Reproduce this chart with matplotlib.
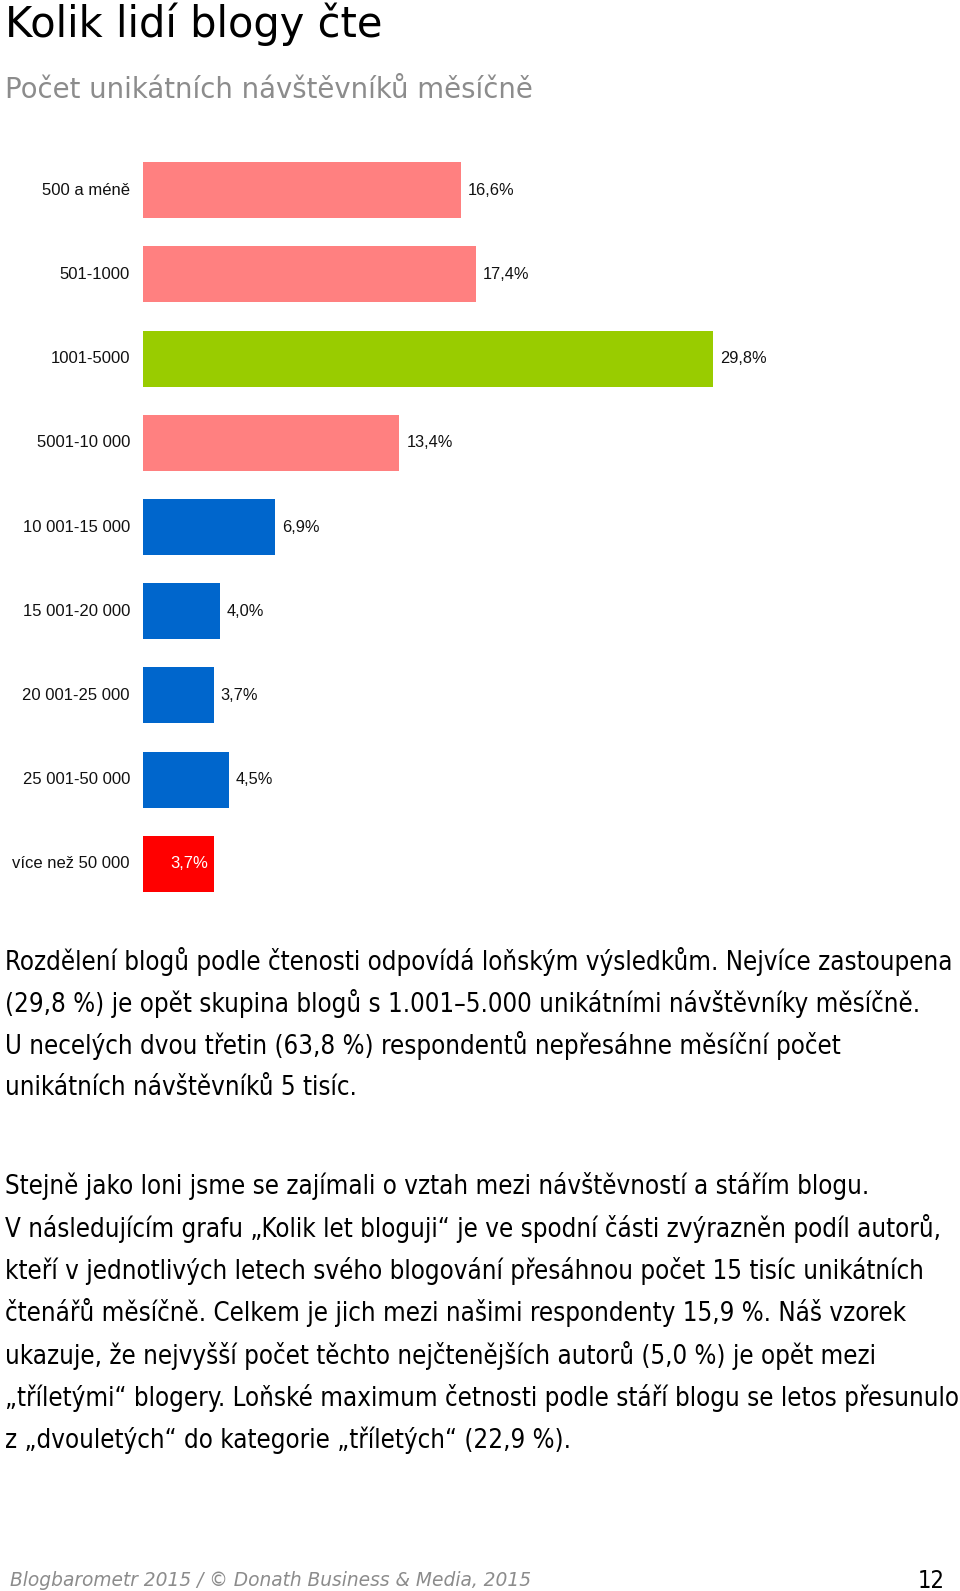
import matplotlib
matplotlib.use("Agg")
import matplotlib.pyplot as plt

# data
categories = ["500 a méně", "501-1000", "1001-5000", "5001-10 000", "10 001-15 000",
              "15 001-20 000", "20 001-25 000", "25 001-50 000", "více než 50 000"]
values = [16.6, 17.4, 29.8, 13.4, 6.9, 4.0, 3.7, 4.5, 3.7]
value_labels = ["16,6%", "17,4%", "29,8%", "13,4%", "6,9%", "4,0%", "3,7%", "4,5%", "3,7%"]
bar_colors = ["#FF8080", "#FF8080", "#99CC00", "#FF8080", "#0066CC",
              "#0066CC", "#0066CC", "#0066CC", "#FF0000"]

title = "Kolik lidí blogy čte"
subtitle = "Počet unikátních návštěvníků měsíčně"
para1 = [
    "Rozdělení blogů podle čtenosti odpovídá loňským výsledkům. Nejvíce zastoupena",
    "(29,8 %) je opět skupina blogů s 1.001–5.000 unikátními návštěvníky měsíčně.",
    "U necelých dvou třetin (63,8 %) respondentů nepřesáhne měsíční počet",
    "unikátních návštěvníků 5 tisíc.",
]
para2 = [
    "Stejně jako loni jsme se zajímali o vztah mezi návštěvností a stářím blogu.",
    "V následujícím grafu „Kolik let bloguji“ je ve spodní části zvýrazněn podíl autorů,",
    "kteří v jednotlivých letech svého blogování přesáhnou počet 15 tisíc unikátních",
    "čtenářů měsíčně. Celkem je jich mezi našimi respondenty 15,9 %. Náš vzorek",
    "ukazuje, že nejvyšší počet těchto nejčtenějších autorů (5,0 %) je opět mezi",
    "„tříletými“ blogery. Loňské maximum četnosti podle stáří blogu se letos přesunulo",
    "z „dvouletých“ do kategorie „tříletých“ (22,9 %).",
]
footer = "Blogbarometr 2015 / © Donath Business & Media, 2015"
page_no = "12"

W, H = 960, 1591
fig = plt.figure(figsize=(W / 100, H / 100), dpi=100)
fig.patch.set_facecolor("white")


def fx(px):
    return px / W


def fy(py):
    return 1 - py / H


# bar chart axes: left at 143px, 19.13 px per percent
ax = fig.add_axes([fx(143), fy(906), 40 * 19.13 / W, (906 - 148) / H])
ypos = list(range(len(categories)))
bars = ax.barh(ypos, values, height=0.665, color=bar_colors, edgecolor="none")
ax.set_xlim(0, 40)
ax.set_ylim(len(categories) - 0.5, -0.5)
ax.axis("off")

lab_font = ["Liberation Sans", "DejaVu Sans"]
for i, (cat, v, lab) in enumerate(zip(categories, values, value_labels)):
    ax.annotate(cat, xy=(0, i), xytext=(-13, 0), textcoords="offset pixels",
                ha="right", va="center", fontsize=12, family=lab_font, color="#111111")
    if i == len(categories) - 1:
        ax.annotate(lab, xy=(v, i), xytext=(-6, 0), textcoords="offset pixels",
                    ha="right", va="center", fontsize=12, family=lab_font, color="white")
    else:
        ax.annotate(lab, xy=(v, i), xytext=(7, 0), textcoords="offset pixels",
                    ha="left", va="center", fontsize=11.8, family=lab_font, color="#111111")

fig.text(fx(5), fy(24), title, fontsize=30, color="black", va="center", ha="left",
         family="DejaVu Sans")
fig.text(fx(5), fy(90), subtitle, fontsize=19.8, color="#8c8c8c", va="center", ha="left",
         family="DejaVu Sans")

body_kw = dict(fontsize=18.5, color="black", va="center", ha="left",
               family="DejaVu Sans", fontstretch="condensed")
for k, line in enumerate(para1):
    fig.text(fx(5), fy(961 + k * 42.3), line, **body_kw)
for k, line in enumerate(para2):
    fig.text(fx(5), fy(1186 + k * 42.3), line, **body_kw)

fig.text(fx(10), fy(1581), footer, fontsize=13.4, color="#8c8c8c", style="italic",
         va="center", ha="left", family="DejaVu Sans")
fig.text(fx(945), fy(1581), page_no, fontsize=17, color="black", va="center", ha="right",
         family="DejaVu Sans", fontstretch="condensed")

fig.savefig("out.png", dpi=100)
